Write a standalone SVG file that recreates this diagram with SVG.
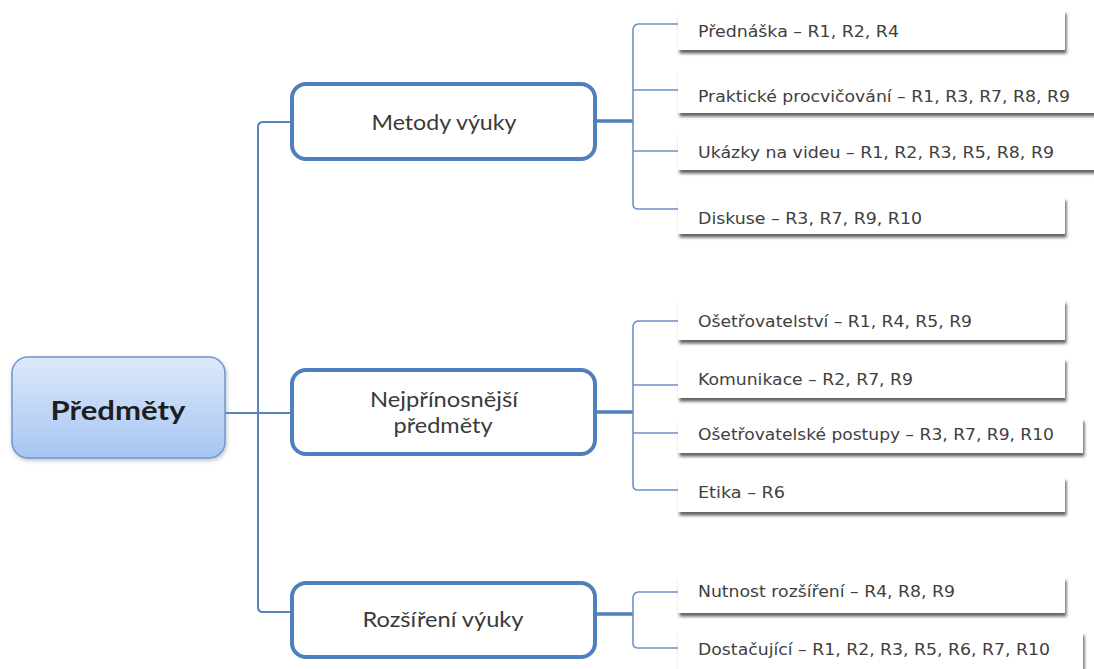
<svg xmlns="http://www.w3.org/2000/svg" width="1094" height="669" viewBox="0 0 1094 669">
  <defs>
    <linearGradient id="rootGrad" x1="0" y1="0" x2="0" y2="1">
      <stop offset="0" stop-color="#dde9fb"/>
      <stop offset="1" stop-color="#a6c5f2"/>
    </linearGradient>
    <filter id="leafShadow" x="-5%" y="-30%" width="115%" height="180%">
      <feDropShadow dx="1.5" dy="3.5" stdDeviation="1.6" flood-color="#3a3a3a" flood-opacity="0.8"/>
    </filter>
    <filter id="rootShadow" x="-10%" y="-10%" width="125%" height="130%">
      <feDropShadow dx="1" dy="2" stdDeviation="2" flood-color="#7a8aa0" flood-opacity="0.5"/>
    </filter>
  </defs>
  <style>
    .main { fill: #ffffff; stroke: #4f7fbc; stroke-width: 4; }
    .leaf { fill: #ffffff; filter: url(#leafShadow); }
    .mainText { font-family: Lato, "Liberation Sans", sans-serif; font-size: 22px; fill: #3a3a3a; text-anchor: middle; }
    .twoLine { font-size: 20.5px; }
    .rootText { font-family: Lato, "Liberation Sans", sans-serif; font-size: 27px; font-weight: bold; fill: #1e1e1e; text-anchor: middle; }
    .leafText { font-family: "DejaVu Sans", Verdana, sans-serif; font-size: 16px; fill: #404040; }
    .conn { fill: none; stroke: #5583c0; stroke-width: 2; }
    .stub { fill: none; stroke: #4f7fbc; stroke-width: 3.5; }
    .branch { fill: none; stroke: #6a93c8; stroke-width: 1.6; }
  </style>
  <rect width="1094" height="669" fill="#ffffff"/>

  <g id="connectors">
    <!-- trunk -->
    <path class="conn" d="M292,122 H263 Q258,122 258,127 V607 Q258,612 263,612 H292"/>
    <path class="conn" d="M224,413 H292"/>
    <!-- Metody výuky bracket -->
    <path class="stub" d="M595,121 H633"/>
    <path class="branch" d="M678,24 H638 Q633,25 633,30 V204 Q633,209 638,209 H678"/>
    <path class="branch" d="M633,90 H678"/>
    <path class="branch" d="M633,151 H678"/>
    <!-- Nejpřínosnější předměty bracket -->
    <path class="stub" d="M595,412 H633"/>
    <path class="branch" d="M678,321 H638 Q633,322 633,327 V485 Q633,490 638,490 H678"/>
    <path class="branch" d="M633,385 H678"/>
    <path class="branch" d="M633,433 H678"/>
    <!-- Rozšíření výuky bracket -->
    <path class="stub" d="M595,614 H633"/>
    <path class="branch" d="M678,592 H638 Q633,593 633,598 V643 Q633,648 638,648 H678"/>
  </g>

  <g id="root">
    <rect x="12" y="357" width="213" height="101" rx="16" fill="url(#rootGrad)" stroke="#6f96c9" stroke-width="1.5" filter="url(#rootShadow)"/>
    <text class="rootText" x="118" y="420" textLength="135" lengthAdjust="spacingAndGlyphs">Předměty</text>
  </g>

  <g id="metody">
    <rect class="main" x="292" y="84" width="303" height="75" rx="14"/>
    <text class="mainText" x="444" y="130" textLength="145" lengthAdjust="spacingAndGlyphs">Metody výuky</text>
  </g>
  <g id="nejprinosnejsi">
    <rect class="main" x="292" y="370" width="303" height="84" rx="14"/>
    <text class="mainText twoLine" x="444" y="407" textLength="148" lengthAdjust="spacingAndGlyphs">Nejpřínosnější</text>
    <text class="mainText twoLine" x="443" y="433" textLength="99" lengthAdjust="spacingAndGlyphs">předměty</text>
  </g>
  <g id="rozsireni">
    <rect class="main" x="292" y="583" width="303" height="74" rx="14"/>
    <text class="mainText" x="443" y="627" textLength="161" lengthAdjust="spacingAndGlyphs">Rozšíření výuky</text>
  </g>

  <g id="leaf-prednaska">
    <rect class="leaf" x="678" y="10" width="387" height="40"/>
    <text class="leafText" x="698" y="37" textLength="201" lengthAdjust="spacingAndGlyphs">Přednáška – R1, R2, R4</text>
  </g>
  <g id="leaf-prakticke">
    <rect class="leaf" x="678" y="72" width="420" height="41"/>
    <text class="leafText" x="698" y="102" textLength="372" lengthAdjust="spacingAndGlyphs">Praktické procvičování – R1, R3, R7, R8, R9</text>
  </g>
  <g id="leaf-ukazky">
    <rect class="leaf" x="678" y="132" width="420" height="38"/>
    <text class="leafText" x="698" y="158" textLength="356" lengthAdjust="spacingAndGlyphs">Ukázky na videu – R1, R2, R3, R5, R8, R9</text>
  </g>
  <g id="leaf-diskuse">
    <rect class="leaf" x="678" y="197" width="387" height="37"/>
    <text class="leafText" x="698" y="224" textLength="224" lengthAdjust="spacingAndGlyphs">Diskuse – R3, R7, R9, R10</text>
  </g>

  <g id="leaf-osetrovatelstvi">
    <rect class="leaf" x="678" y="300" width="387" height="40"/>
    <text class="leafText" x="698" y="327" textLength="274" lengthAdjust="spacingAndGlyphs">Ošetřovatelství – R1, R4, R5, R9</text>
  </g>
  <g id="leaf-komunikace">
    <rect class="leaf" x="678" y="358" width="387" height="40"/>
    <text class="leafText" x="698" y="385" textLength="215" lengthAdjust="spacingAndGlyphs">Komunikace – R2, R7, R9</text>
  </g>
  <g id="leaf-postupy">
    <rect class="leaf" x="678" y="418" width="405" height="35"/>
    <text class="leafText" x="698" y="440" textLength="356" lengthAdjust="spacingAndGlyphs">Ošetřovatelské postupy – R3, R7, R9, R10</text>
  </g>
  <g id="leaf-etika">
    <rect class="leaf" x="678" y="477" width="387" height="35"/>
    <text class="leafText" x="698" y="498" textLength="87" lengthAdjust="spacingAndGlyphs">Etika – R6</text>
  </g>

  <g id="leaf-nutnost">
    <rect class="leaf" x="678" y="577" width="387" height="36"/>
    <text class="leafText" x="698" y="597" textLength="257" lengthAdjust="spacingAndGlyphs">Nutnost rozšíření – R4, R8, R9</text>
  </g>
  <g id="leaf-dostacujici">
    <rect class="leaf" x="678" y="632" width="405" height="50"/>
    <text class="leafText" x="698" y="655" textLength="352" lengthAdjust="spacingAndGlyphs">Dostačující – R1, R2, R3, R5, R6, R7, R10</text>
  </g>
</svg>
